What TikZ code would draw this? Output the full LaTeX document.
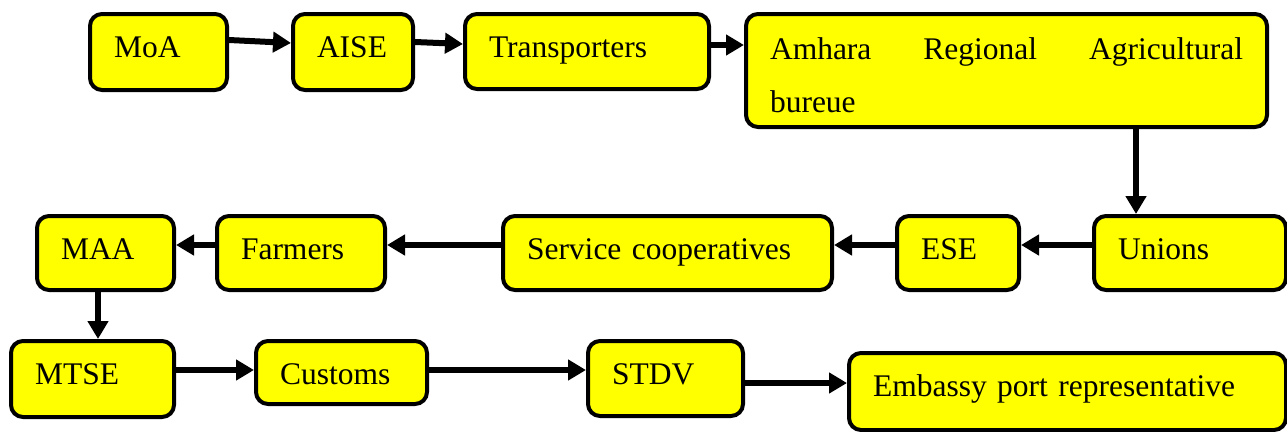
\documentclass[tikz,border=0pt]{standalone}
\usepackage{fontspec}
\setmainfont{Liberation Serif}
\usetikzlibrary{arrows.meta}
\definecolor{boxyellow}{RGB}{255,255,0}
\begin{document}
\begin{tikzpicture}[x=1pt,y=-1pt,
  box/.style={draw=black, line width=4pt, rounded corners=12pt, fill=boxyellow,
    anchor=north west, inner xsep=24pt, inner ysep=0pt, text height=43pt,
    align=left, font=\fontsize{31.5}{53}\selectfont},
  flow/.style={line width=6pt, -{Triangle[length=18pt,width=20pt]}}]
\useasboundingbox (0,0) rectangle (1287,431);
% row 1
\node[box, text width=89pt,  text depth=33pt] (moa)   at (88,12)  {MoA};
\node[box, text width=72pt,  text depth=33pt] (aise)  at (291,12) {AISE};
\node[box, text width=196pt, text depth=32pt] (trans) at (463,12) {Transporters};
\node[box, text width=473pt, text depth=68pt, text height=45pt] (amhara) at (744,12)
  {Amhara\hfill Regional\hfill Agricultural\\bureue};
% row 2
\node[box, text width=89pt,  text depth=31pt] (maa)     at (35,214)   {MAA};
\node[box, text width=120pt, text depth=31pt] (farmers) at (215,214)  {Farmers};
\node[box, text width=281pt, text depth=31pt] (service) at (501,214)  {Service cooperatives};
\node[box, text width=74pt,  text depth=31pt] (ese)     at (895,214)  {ESE};
\node[box, text width=144pt, text depth=31pt] (unions)  at (1092,214) {Unions};
% row 3
\node[box, text width=115pt, text depth=33pt] (mtse)    at (9,339)   {MTSE};
\node[box, text width=123pt, text depth=20pt] (customs) at (254,339) {Customs};
\node[box, text width=107pt, text depth=32pt] (stdv)    at (586,339) {STDV};
\node[box, text width=389pt, text depth=34pt] (embassy) at (847,351) {Embassy port representative};
% connectors
\draw[flow] (moa.east |- 0,40) -- (aise.west |- 0,43);
\draw[flow] (aise.east |- 0,42) -- (trans.west |- 0,44);
\draw[flow] (trans.east |- 0,45) -- (amhara.west |- 0,45);
\draw[flow] (amhara.south -| 1136,0) -- (unions.north -| 1136,0);
\draw[flow] (unions.west |- 0,245) -- (ese.east |- 0,245);
\draw[flow] (ese.west |- 0,245) -- (service.east |- 0,245);
\draw[flow] (service.west |- 0,245) -- (farmers.east |- 0,245);
\draw[flow] (farmers.west |- 0,245) -- (maa.east |- 0,245);
\draw[flow] (maa.south -| 98,0) -- (mtse.north -| 98,0);
\draw[flow] (mtse.east |- 0,370) -- (customs.west |- 0,370);
\draw[flow] (customs.east |- 0,370) -- (stdv.west |- 0,370);
\draw[flow] (stdv.east |- 0,383) -- (embassy.west |- 0,383);
\end{tikzpicture}
\end{document}
